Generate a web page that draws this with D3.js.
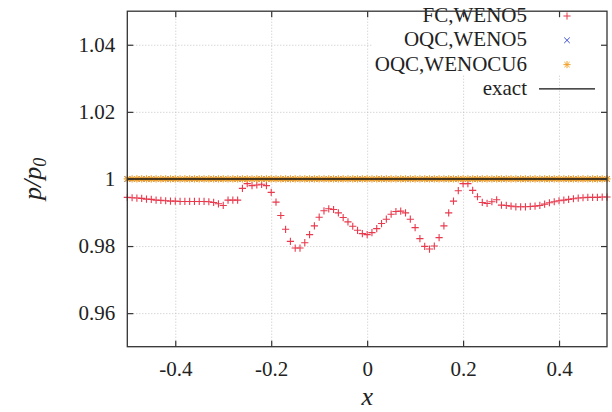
<!DOCTYPE html>
<html lang="en">
	<head>
		<meta charset="utf-8">
		<title>p/p0 profile</title>
		<script src="https://d3js.org/d3.v7.min.js" charset="utf-8"></script>
		<style type="text/css">
			body { margin: 0; background: white; }
		</style>
	</head>
	<body>
		<svg width="612" height="412"></svg>
		<script>

			//Data: 101 grid points, x = -0.5 .. 0.5 step 0.01
			var xValues = d3.range(0, 101).map(function(i) { return -0.5 + i * 0.01; });

			// FC,WENO5
			var fcWeno5 = [
				0.9945, 0.9944, 0.9943, 0.9942, 0.9940, 0.9939, 0.9937, 0.9936, 0.9935, 0.9934,
				0.9934, 0.9933, 0.9933, 0.9933, 0.9933, 0.9933, 0.9933, 0.9932, 0.9930, 0.9926,
				0.9921, 0.9937, 0.9937, 0.9937, 0.9972, 0.9986, 0.9980, 0.9982, 0.9984, 0.9980,
				0.9960, 0.9931, 0.9891, 0.9850, 0.9814, 0.9794, 0.9794, 0.9810, 0.9834, 0.9860,
				0.9886, 0.9905, 0.9911, 0.9909, 0.9899, 0.9885, 0.9872, 0.9859, 0.9847, 0.9837,
				0.9834, 0.9840, 0.9852, 0.9867, 0.9880, 0.9895, 0.9903, 0.9904, 0.9899, 0.9880,
				0.9855, 0.9822, 0.9799, 0.9791, 0.9800, 0.9825, 0.9860, 0.9899, 0.9934, 0.9965,
				0.9986, 0.9986, 0.9966, 0.9947, 0.9930, 0.9927, 0.9932, 0.9938, 0.9922, 0.9921,
				0.9919, 0.9917, 0.9917, 0.9917, 0.9918, 0.9919, 0.9921, 0.9925, 0.9929, 0.9932,
				0.9935, 0.9937, 0.9939, 0.9941, 0.9943, 0.9944, 0.9945, 0.9945, 0.9945, 0.9946,
				0.9946
			];

			// OQC,WENO5 and OQC,WENOCU6 stay on the exact solution
			var oqcWeno5 = xValues.map(function() { return 1.0; });
			var oqcWenocu6 = xValues.map(function() { return 1.0; });
			var exactX = [-0.5, 0.5];
			var exactY = [1.0, 1.0];

			var xTicks = [-0.4, -0.2, 0, 0.2, 0.4];
			var yTicks = [0.96, 0.98, 1.0, 1.02, 1.04];
			var legendLabels = ["FC,WENO5", "OQC,WENO5", "OQC,WENOCU6", "exact"];

			var serif = "'Liberation Serif', 'DejaVu Serif', 'Times New Roman', serif";

			//Plot box
			var pLeft = 127.3, pRight = 607, pTop = 11.2, pBottom = 346.7;

			var xScale = d3.scaleLinear().domain([-0.5, 0.5]).range([pLeft, pRight]);
			var yScale = d3.scaleLinear().domain([0.95, 1.05]).range([pBottom, pTop]);
			var plainFormat = function(d) { return String(d); };

			var svg = d3.select("svg");

			//Grid (dotted)
			svg.append("g")
				.attr("transform", "translate(0," + pBottom + ")")
				.call(d3.axisBottom(xScale).tickValues(xTicks).tickSize(-(pBottom - pTop)).tickFormat(""))
				.call(function(g) {
					g.select(".domain").remove();
					g.selectAll("line").attr("stroke", "#b8b8b8").attr("stroke-width", 0.8).attr("stroke-dasharray", "1,2");
				});
			svg.append("g")
				.attr("transform", "translate(" + pLeft + ",0)")
				.call(d3.axisLeft(yScale).tickValues(yTicks).tickSize(-(pRight - pLeft)).tickFormat(""))
				.call(function(g) {
					g.select(".domain").remove();
					g.selectAll("line").attr("stroke", "#b8b8b8").attr("stroke-width", 0.8).attr("stroke-dasharray", "1,2");
				});

			//Marker shapes
			var plusPath = "M-3.6,0H3.6M0,-3.6V3.6";
			var crossPath = "M-2.8,-2.8L2.8,2.8M-2.8,2.8L2.8,-2.8";
			var starPath = "M-3.6,0H3.6M0,-3.6V3.6M-2.6,-2.6L2.6,2.6M-2.6,2.6L2.6,-2.6";

			var red = "#e8394d", blue = "#3c4fd0", orange = "#f2a22a";

			//FC,WENO5
			svg.append("g").selectAll("path")
				.data(fcWeno5)
				.enter()
				.append("path")
				.attr("d", plusPath)
				.attr("transform", function(d, i) { return "translate(" + xScale(xValues[i]) + "," + yScale(d) + ")"; })
				.attr("stroke", red)
				.attr("stroke-width", 1.1)
				.attr("fill", "none");

			//OQC,WENO5
			svg.append("g").selectAll("path")
				.data(oqcWeno5)
				.enter()
				.append("path")
				.attr("d", crossPath)
				.attr("transform", function(d, i) { return "translate(" + xScale(xValues[i]) + "," + yScale(d) + ")"; })
				.attr("stroke", blue)
				.attr("stroke-width", 1)
				.attr("fill", "none");

			//OQC,WENOCU6
			svg.append("g").selectAll("path")
				.data(oqcWenocu6)
				.enter()
				.append("path")
				.attr("d", starPath)
				.attr("transform", function(d, i) { return "translate(" + xScale(xValues[i]) + "," + yScale(d) + ")"; })
				.attr("stroke", orange)
				.attr("stroke-width", 1.2)
				.attr("fill", "none");

			//exact
			var line = d3.line()
				.x(function(d, i) { return xScale(exactX[i]); })
				.y(function(d) { return yScale(d); });
			svg.append("path")
				.datum(exactY)
				.attr("d", line)
				.attr("stroke", "#111")
				.attr("stroke-width", 1.4)
				.attr("fill", "none");

			//Legend (white box covers grid)
			var legX = 527, legMarkX = 567, legY0 = 15, legDy = 24.3;
			svg.append("rect")
				.attr("x", 372).attr("y", pTop + 1)
				.attr("width", pRight - 373).attr("height", 62)
				.attr("fill", "white");

			var legend = svg.append("g");
			legend.selectAll("text")
				.data(legendLabels)
				.enter()
				.append("text")
				.attr("x", legX)
				.attr("y", function(d, i) { return legY0 + i * legDy; })
				.attr("dy", "0.33em")
				.attr("text-anchor", "end")
				.attr("font-family", serif)
				.attr("font-size", 21)
				.attr("fill", "#222")
				.text(function(d) { return d; });

			var legendMarks = [plusPath, crossPath, starPath];
			var legendColors = [red, blue, orange];
			legend.selectAll("path.mark")
				.data(legendMarks)
				.enter()
				.append("path")
				.attr("class", "mark")
				.attr("d", function(d) { return d; })
				.attr("transform", function(d, i) { return "translate(" + legMarkX + "," + (legY0 + 1 + i * legDy) + ")"; })
				.attr("stroke", function(d, i) { return legendColors[i]; })
				.attr("stroke-width", 1)
				.attr("fill", "none");
			legend.append("line")
				.attr("x1", 539).attr("x2", 595)
				.attr("y1", legY0 + 3 * legDy + 1).attr("y2", legY0 + 3 * legDy + 1)
				.attr("stroke", "#111")
				.attr("stroke-width", 1.3);

			//Axes with inward ticks on all four sides
			function styleAxis(g) {
				g.attr("font-family", serif);
				g.select(".domain").remove();
				g.selectAll("line").attr("stroke", "#333").attr("stroke-width", 1.2);
				g.selectAll("text").attr("font-size", 21).attr("fill", "#222").attr("font-family", serif);
			}
			svg.append("g")
				.attr("transform", "translate(0," + pBottom + ")")
				.call(d3.axisBottom(xScale).tickValues(xTicks).tickSize(-6).tickPadding(14).tickFormat(plainFormat))
				.call(styleAxis);
			svg.append("g")
				.attr("transform", "translate(0," + pTop + ")")
				.call(d3.axisTop(xScale).tickValues(xTicks).tickSize(-6).tickFormat(""))
				.call(styleAxis);
			svg.append("g")
				.attr("transform", "translate(" + pLeft + ",0)")
				.call(d3.axisLeft(yScale).tickValues(yTicks).tickSize(-6).tickPadding(12).tickFormat(plainFormat))
				.call(styleAxis);
			svg.append("g")
				.attr("transform", "translate(" + pRight + ",0)")
				.call(d3.axisRight(yScale).tickValues(yTicks).tickSize(-6).tickFormat(""))
				.call(styleAxis);

			//Frame
			svg.append("rect")
				.attr("x", pLeft).attr("y", pTop)
				.attr("width", pRight - pLeft).attr("height", pBottom - pTop)
				.attr("fill", "none")
				.attr("stroke", "#333")
				.attr("stroke-width", 1.3);

			//Axis titles
			svg.append("text")
				.attr("x", xScale(0))
				.attr("y", 405)
				.attr("text-anchor", "middle")
				.attr("font-family", serif)
				.attr("font-size", 26)
				.attr("font-style", "italic")
				.attr("fill", "#222")
				.text("x");

			var yTitle = svg.append("text")
				.attr("transform", "translate(41," + yScale(1.0) + ") rotate(-90)")
				.attr("text-anchor", "middle")
				.attr("font-family", serif)
				.attr("font-size", 26)
				.attr("font-style", "italic")
				.attr("fill", "#222");
			yTitle.append("tspan").text("p/p");
			yTitle.append("tspan").attr("font-size", 18).attr("dy", 5).text("0");

		</script>
	</body>
</html>
